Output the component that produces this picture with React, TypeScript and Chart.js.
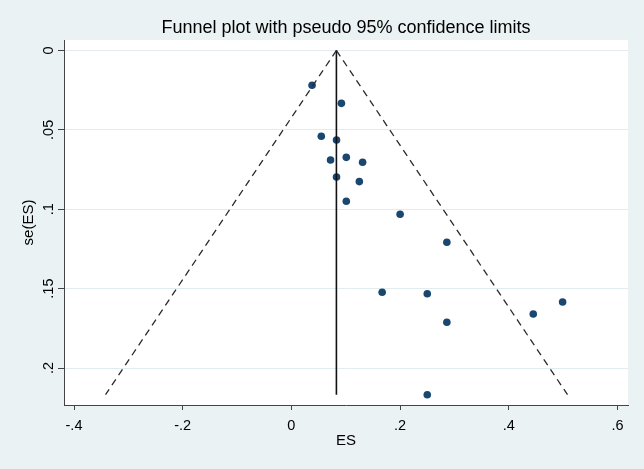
import React, { useEffect, useRef } from "react";
import { Chart, registerables } from "chart.js";

Chart.register(...registerables);

// Study effect sizes (ES) and their standard errors se(ES)
const studyES = [0.038, 0.092, 0.055, 0.083, 0.072, 0.101, 0.131, 0.083, 0.125, 0.101, 0.2, 0.286, 0.167, 0.25, 0.286, 0.445, 0.499, 0.25];
const studySE = [0.0219, 0.0333, 0.054, 0.0564, 0.069, 0.0673, 0.0704, 0.0797, 0.0826, 0.095, 0.1032, 0.1208, 0.1523, 0.1532, 0.1712, 0.166, 0.1584, 0.2168];

// Funnel: pooled estimate line and pseudo 95% limits (top apex, bottom end)
const funnelSE = [0, 0.2168];
const pooledLine = [0.0828, 0.0828];
const lowerLimit = [0.0828, -0.342];
const upperLimit = [0.0828, 0.508];

// Axis ticks
const xTicks = [-0.4, -0.2, 0, 0.2, 0.4, 0.6];
const xTickLabels = ["-.4", "-.2", "0", ".2", ".4", ".6"];
const yTicks = [0, 0.05, 0.1, 0.15, 0.2];
const yTickLabels = ["0", ".05", ".1", ".15", ".2"];

const TITLE = "Funnel plot with pseudo 95% confidence limits";
const X_TITLE = "ES";
const Y_TITLE = "se(ES)";

const BG = "#EAF2F3";
const FONT = "'Liberation Sans', Arial, sans-serif";
const TEXT = "#000000";

export default function App() {
  const ref = useRef<HTMLCanvasElement | null>(null);

  useEffect(() => {
    document.body.style.margin = "0";
    const canvas = ref.current!;
    const bgPlugin = {
      id: "bgPlugin",
      beforeDraw(chart: any) {
        const { ctx, chartArea } = chart;
        ctx.save();
        ctx.fillStyle = BG;
        ctx.fillRect(0, 0, chart.width, chart.height);
        ctx.fillStyle = "#ffffff";
        ctx.fillRect(chartArea.left, chartArea.top, chartArea.right - chartArea.left, chartArea.bottom - chartArea.top);
        ctx.restore();
      },
      afterDraw(chart: any) {
        const { ctx, chartArea } = chart;
        const xs = chart.scales.x;
        const ys = chart.scales.y;
        const cx = (chartArea.left + chartArea.right) / 2;
        const cy = (chartArea.top + chartArea.bottom) / 2;
        ctx.save();
        ctx.fillStyle = TEXT;
        // main title
        ctx.font = `18px ${FONT}`;
        ctx.textAlign = "center";
        ctx.textBaseline = "alphabetic";
        ctx.fillText(TITLE, cx, chartArea.top - 7);
        // x tick labels
        ctx.font = `14.5px ${FONT}`;
        xTicks.forEach((v, i) => {
          ctx.fillText(xTickLabels[i], xs.getPixelForValue(v), chartArea.bottom + 24.5);
        });
        // x title
        ctx.font = `15px ${FONT}`;
        ctx.fillText(X_TITLE, cx, chartArea.bottom + 40);
        // y tick labels (rotated)
        ctx.font = `14.5px ${FONT}`;
        yTicks.forEach((v, i) => {
          ctx.save();
          ctx.translate(chartArea.left - 11, ys.getPixelForValue(v));
          ctx.rotate(-Math.PI / 2);
          ctx.fillText(yTickLabels[i], 0, 0);
          ctx.restore();
        });
        // y title
        ctx.font = `15px ${FONT}`;
        ctx.save();
        ctx.translate(chartArea.left - 31, cy);
        ctx.rotate(-Math.PI / 2);
        ctx.fillText(Y_TITLE, 0, 0);
        ctx.restore();
        ctx.restore();
      },
    };

    const toPts = (xsArr: number[], ysArr: number[]) => xsArr.map((x, i) => ({ x, y: ysArr[i] }));

    const chart = new Chart(canvas, {
      type: "scatter",
      data: {
        datasets: [
          {
            type: "line",
            data: toPts(lowerLimit, funnelSE),
            borderColor: "#2a2a2a",
            borderWidth: 1.3,
            borderDash: [7, 5],
            pointRadius: 0,
            fill: false,
          },
          {
            type: "line",
            data: toPts(upperLimit, funnelSE),
            borderColor: "#2a2a2a",
            borderWidth: 1.3,
            borderDash: [7, 5],
            pointRadius: 0,
            fill: false,
          },
          {
            type: "line",
            data: toPts(pooledLine, funnelSE),
            borderColor: "#111111",
            borderWidth: 1.6,
            pointRadius: 0,
            fill: false,
          },
          {
            type: "scatter",
            data: toPts(studyES, studySE),
            backgroundColor: "#1a476f",
            borderColor: "#1a476f",
            borderWidth: 0,
            pointRadius: 3.8,
          },
        ] as any,
      },
      options: {
        responsive: false,
        animation: false,
        layout: { padding: { left: 58, right: 16, top: 40, bottom: 59 } },
        plugins: { legend: { display: false }, title: { display: false }, tooltip: { enabled: false } },
        scales: {
          x: {
            type: "linear",
            min: -0.4184,
            max: 0.6193,
            afterBuildTicks: (s: any) => {
              s.ticks = xTicks.map((v) => ({ value: v }));
            },
            ticks: { display: false },
            grid: { drawOnChartArea: false, drawTicks: true, tickLength: 5, tickColor: "#444444", tickWidth: 1 },
            border: { display: true, color: "#444444", width: 1 },
          },
          y: {
            type: "linear",
            reverse: true,
            min: -0.0066,
            max: 0.2233,
            afterBuildTicks: (s: any) => {
              s.ticks = yTicks.map((v) => ({ value: v }));
            },
            ticks: { display: false },
            grid: { drawOnChartArea: true, color: "#E1ECEF", lineWidth: 1, drawTicks: true, tickLength: 6, tickColor: "#444444", tickWidth: 1 },
            border: { display: true, color: "#444444", width: 1 },
          },
        },
      },
      plugins: [bgPlugin],
    } as any);
    return () => chart.destroy();
  }, []);

  return (
    <div style={{ position: "fixed", left: 0, top: 0, width: 644, height: 469, background: BG }}>
      <canvas ref={ref} width={644} height={469} style={{ display: "block", width: 644, height: 469 }} />
    </div>
  );
}
